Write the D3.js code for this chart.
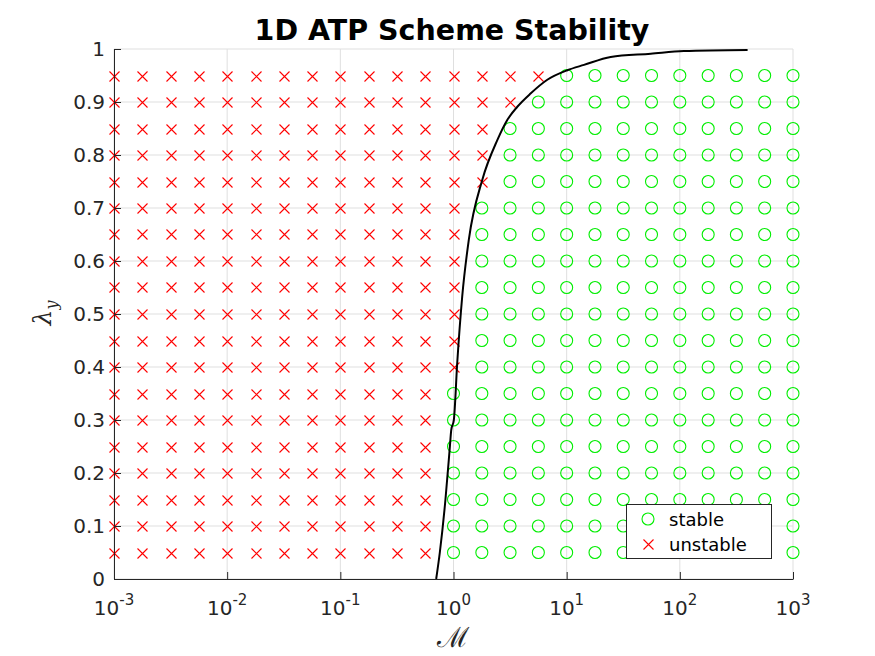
<!DOCTYPE html>
<html><head><meta charset="utf-8">
<script src="https://cdn.jsdelivr.net/npm/d3@7"></script>
<style>body{margin:0;background:#fff}svg{display:block}</style>
</head><body>
<svg id="c" width="875" height="656"></svg>
<script>
// ---- data ----
const xExponents = [-3,-2,-1,0,1,2,3];
const yTicks = [0,0.1,0.2,0.3,0.4,0.5,0.6,0.7,0.8,0.9,1];
// grid of sampled M values (quarter decades) and lambda values
const mGrid = [0.001,0.00178,0.00316,0.00562,0.01,0.0178,0.0316,0.0562,0.1,0.178,0.316,0.562,1,1.78,3.16,5.62,10,17.8,31.6,56.2,100,178,316,562,1000];
const lambdaGrid = [0.05,0.1,0.15,0.2,0.25,0.3,0.35,0.4,0.45,0.5,0.55,0.6,0.65,0.7,0.75,0.8,0.85,0.9,0.95];
// index in mGrid where stability begins for each lambda row
const firstStableIndex = [12,12,12,12,12,12,12,13,13,13,13,13,13,13,14,14,14,15,16];
// stability boundary curve
const curveM = [0.703,0.757,0.849,0.929,0.955,1.007,1.079,1.194,1.365,1.795,2.438,2.985,3.664,4.797,6.745,10.14,14.22,24.49,55.3,108.4,397];
const curveL = [0.0,0.05,0.15,0.25,0.281,0.30,0.408,0.533,0.64,0.753,0.828,0.866,0.891,0.916,0.942,0.960,0.970,0.985,0.991,0.996,0.998];

const svg = d3.select('#c');
const L = 114, R = 793, T = 49, B = 579;
const x = d3.scaleLog().domain([1e-3,1e3]).range([L,R]);
const y = d3.scaleLinear().domain([0,1]).range([B,T]);
const axisCol = '#262626', gridCol = '#dfdfdf';
const font = 'DejaVu Sans, sans-serif';

// grid
const g = svg.append('g');
g.selectAll('.gx').data(xExponents).enter().append('line')
  .attr('x1',d=>x(Math.pow(10,d))).attr('x2',d=>x(Math.pow(10,d)))
  .attr('y1',T).attr('y2',B).attr('stroke',gridCol).attr('stroke-width',1);
g.selectAll('.gy').data(yTicks).enter().append('line')
  .attr('x1',L).attr('x2',R).attr('y1',d=>y(d)).attr('y2',d=>y(d))
  .attr('stroke',gridCol).attr('stroke-width',1);

// points
const pts = [];
lambdaGrid.forEach((lam,ri)=>{
  mGrid.forEach((m,ci)=>{ pts.push({m,lam,stable: ci>=firstStableIndex[ri]}); });
});
const s = 5;
function crossPath(cx,cy){cx=Math.round(cx)+0.5;cy=Math.round(cy)+0.5;return `M${cx-s},${cy-s}L${cx+s},${cy+s}M${cx-s},${cy+s}L${cx+s},${cy-s}`;}
svg.append('g').selectAll('path').data(pts.filter(p=>!p.stable)).enter().append('path')
  .attr('d',p=>crossPath(x(p.m),y(p.lam)))
  .attr('stroke','#ff0000').attr('stroke-width',1.1).attr('fill','none');
svg.append('g').selectAll('circle').data(pts.filter(p=>p.stable)).enter().append('circle')
  .attr('cx',p=>x(p.m)).attr('cy',p=>y(p.lam)).attr('r',6)
  .attr('stroke','#00ee00').attr('stroke-width',1.1).attr('fill','none');

// curve
const curve = curveM.map((m,i)=>({m,l:curveL[i]}));
svg.append('path').datum(curve)
  .attr('d',d3.line().x(d=>x(d.m)).y(d=>y(d.l)).curve(d3.curveMonotoneX))
  .attr('fill','none').attr('stroke','#000').attr('stroke-width',2);

// axes
const xa = d3.axisBottom(x).tickValues(xExponents.map(e=>Math.pow(10,e))).tickSizeInner(-7).tickSizeOuter(0).tickFormat('');
const xg = svg.append('g').attr('transform',`translate(0,${B})`).call(xa);
xg.select('.domain').attr('stroke',axisCol);
xg.selectAll('.tick line').attr('stroke',axisCol);
const ya = d3.axisLeft(y).tickValues(yTicks).tickSizeInner(-7).tickSizeOuter(0).tickFormat('');
const yg = svg.append('g').attr('transform',`translate(${L},0)`).call(ya);
yg.select('.domain').attr('stroke',axisCol);
yg.selectAll('.tick line').attr('stroke',axisCol);

// tick labels
svg.append('g').selectAll('text').data(yTicks).enter().append('text')
  .attr('x',L-9).attr('y',d=>y(d)+7).attr('text-anchor','end')
  .attr('font-family',font).attr('font-size',20).attr('fill',axisCol)
  .text(d=>d3.format('~g')(d));
const xl = svg.append('g').selectAll('text').data(xExponents).enter().append('text')
  .attr('x',d=>x(Math.pow(10,d))).attr('y',615).attr('text-anchor','middle')
  .attr('font-family',font).attr('font-size',20).attr('fill',axisCol);
xl.append('tspan').text('10');
xl.append('tspan').attr('dy',-10).attr('font-size',15).text(d=>d);

// title
svg.append('text').attr('x',452).attr('y',40).attr('text-anchor','middle')
  .attr('font-family',font).attr('font-weight','bold').attr('font-size',28.5).attr('fill','#000')
  .text('1D ATP Scheme Stability');
// x label
svg.append('text').attr('x',453).attr('y',647).attr('text-anchor','middle')
  .attr('font-family','DejaVu Serif, serif').attr('font-size',28).attr('fill',axisCol)
  .text('ℳ');
// y label
const yl = svg.append('text').attr('transform','translate(51,313) rotate(-90)').attr('text-anchor','middle')
  .attr('font-family','DejaVu Serif, serif').attr('font-size',25).attr('fill',axisCol);
yl.append('tspan').attr('font-style','italic').text('λ');
yl.append('tspan').attr('font-style','italic').attr('font-size',16).attr('dy',6).text('y');

// legend
const lg = svg.append('g');
lg.append('rect').attr('x',626.5).attr('y',504.5).attr('width',145).attr('height',54)
  .attr('fill','#fff').attr('stroke','#262626').attr('stroke-width',1);
lg.append('circle').attr('cx',648).attr('cy',519).attr('r',6).attr('fill','none').attr('stroke','#00ee00').attr('stroke-width',1.1);
lg.append('path').attr('d',crossPath(648,544)).attr('stroke','#ff0000').attr('stroke-width',1.1).attr('fill','none');
lg.append('text').attr('x',669).attr('y',526).attr('font-family',font).attr('font-size',18).attr('fill','#000').text('stable');
lg.append('text').attr('x',669).attr('y',551).attr('font-family',font).attr('font-size',18).attr('fill','#000').text('unstable');
</script>
</body></html>
